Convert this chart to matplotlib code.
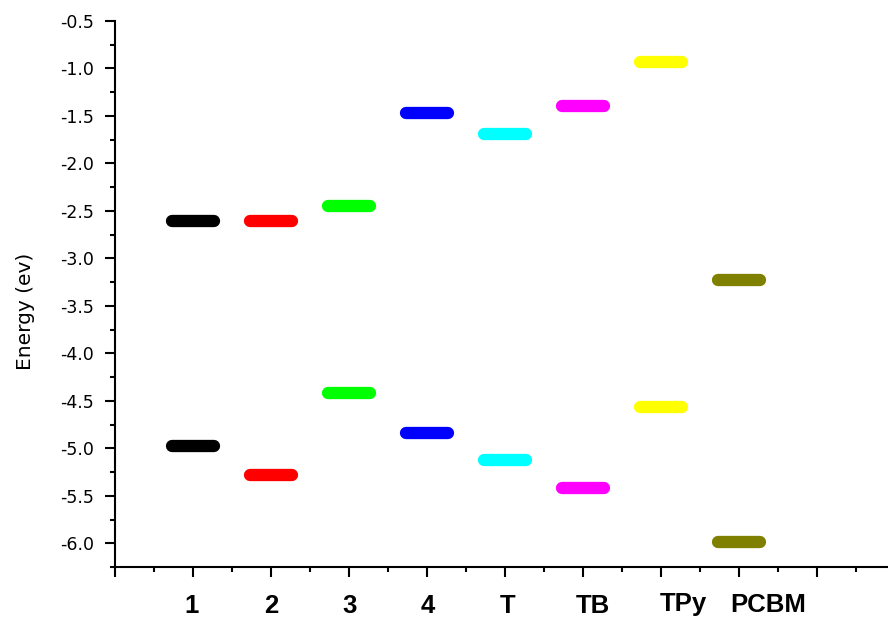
import matplotlib
matplotlib.use("Agg")
import matplotlib.pyplot as plt
from matplotlib.ticker import MultipleLocator, NullFormatter

plt.rcParams['font.family'] = ['Liberation Sans', 'DejaVu Sans']

# Data
categories = ['1', '2', '3', '4', 'T', 'TB', 'TPy', 'PCBM']
lumo = [-2.61, -2.61, -2.45, -1.47, -1.69, -1.39, -0.93, -3.23]
homo = [-4.98, -5.28, -4.42, -4.84, -5.12, -5.42, -4.57, -5.99]
colors = ['#000000', '#ff0000', '#00ff00', '#0000ff', '#00ffff', '#ff00ff', '#ffff00', '#808000']
label_offsets = [-0.02, 0.0, 0.01, 0.01, 0.03, 0.13, 0.29, 0.37]

W, H = 888, 618
fig = plt.figure(figsize=(W / 100, H / 100), dpi=100)
ax_left, ax_bottom = 115 / W, (H - 567) / H
ax_w, ax_h = 780 / W, (567 - 21) / H
ax = fig.add_axes([ax_left, ax_bottom, ax_w, ax_h])
ax.patch.set_alpha(0)

half = 0.265
lw_pt = 12.3 * 72 / 100
for i, (c, l, h) in enumerate(zip(colors, lumo, homo)):
    x = i + 1
    for v in (l, h):
        ax.plot([x - half, x + half], [v, v], color=c, lw=lw_pt,
                solid_capstyle='round', clip_on=False)

ax.set_xlim(0, 10)
ax.set_ylim(-6.25, -0.5)
ax.xaxis.set_major_locator(MultipleLocator(1))
ax.xaxis.set_minor_locator(MultipleLocator(0.5))
ax.xaxis.set_major_formatter(NullFormatter())
ax.yaxis.set_major_locator(MultipleLocator(0.5))
ax.yaxis.set_minor_locator(MultipleLocator(0.25))
ax.yaxis.set_major_formatter(plt.FuncFormatter(lambda v, p: f"{v:.1f}"))

for s in ['top', 'right']:
    ax.spines[s].set_visible(False)
for s in ['left', 'bottom']:
    ax.spines[s].set_linewidth(1.5)

ax.tick_params(axis='both', which='major', direction='out', length=7.3, width=1.5)
ax.tick_params(axis='both', which='minor', direction='out', length=3.7, width=1.5)
ax.tick_params(axis='y', which='major', pad=8)
for t in ax.get_yticklabels():
    t.set_family('DejaVu Sans')
    t.set_fontsize(12.5)

ax.set_ylabel('Energy (ev)', fontsize=14.5, family='DejaVu Sans')
ax.yaxis.set_label_coords(-0.103, 0.469)

tr = ax.get_xaxis_transform()
base = [-0.085] * 5 + [-0.085, -0.080, -0.083]
for i, (cat, off, b) in enumerate(zip(categories, label_offsets, base)):
    ax.text(i + 1 + off, b, cat, transform=tr, ha='center', va='baseline',
            fontsize=18.5, fontweight='bold')

fig.savefig('out.png', dpi=100)
